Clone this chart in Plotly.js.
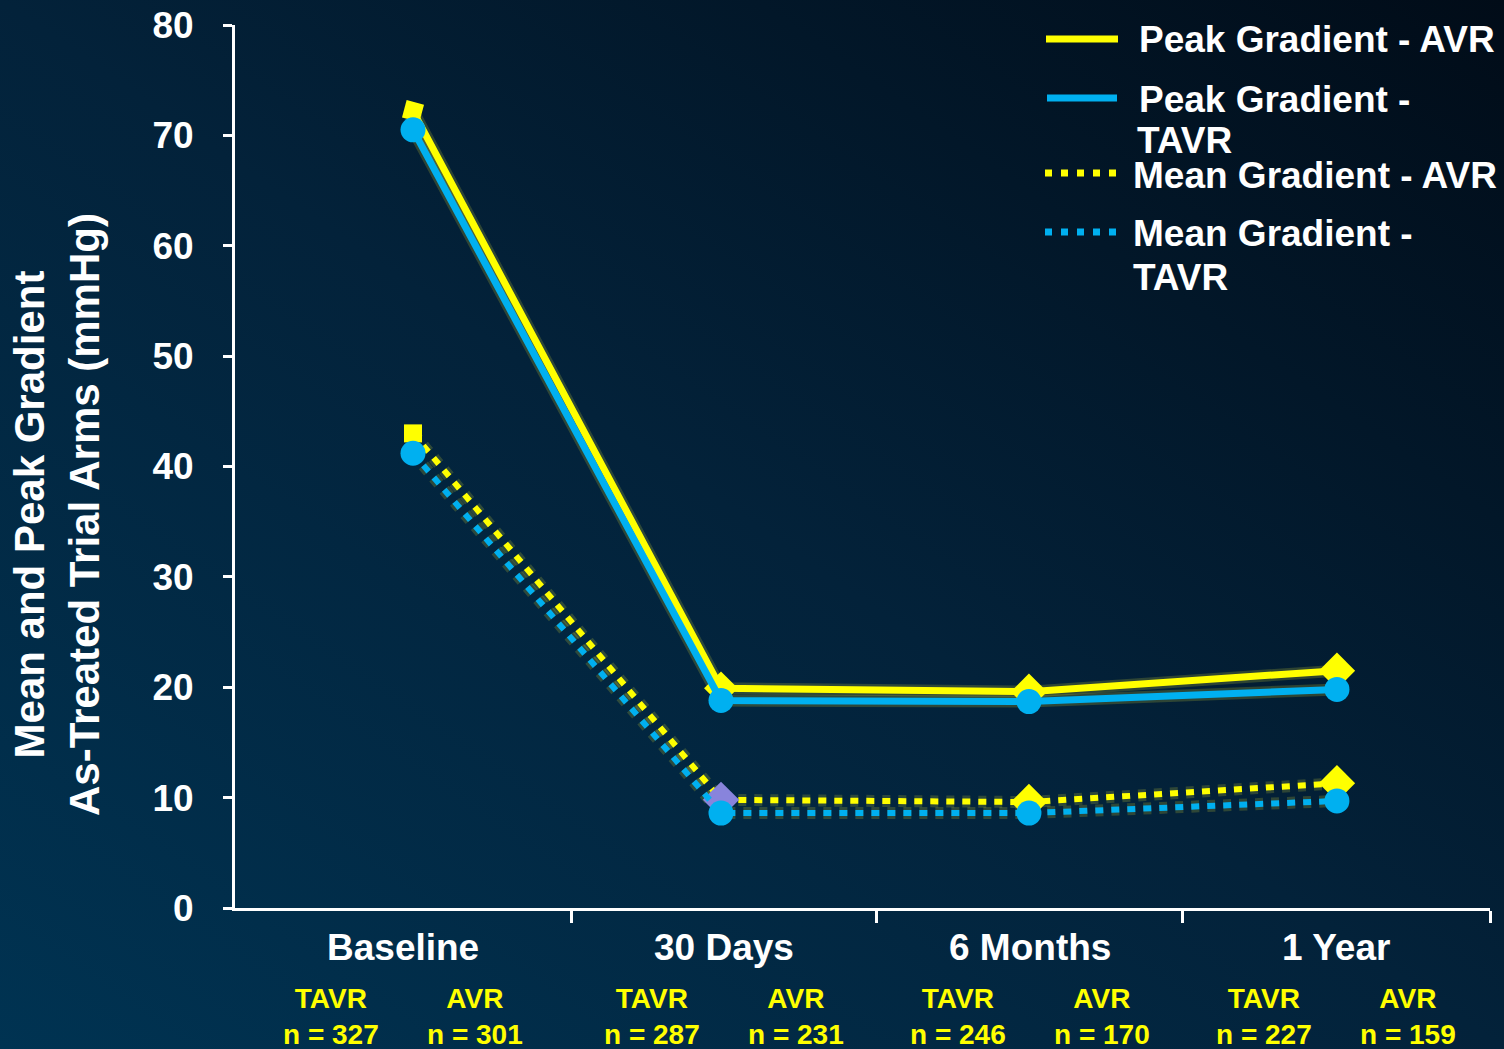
<!DOCTYPE html>
<html>
<head>
<meta charset="utf-8">
<script src="https://cdn.plot.ly/plotly-3.0.1.min.js"></script>
<style>
  html, body { margin: 0; padding: 0; width: 1504px; height: 1049px; overflow: hidden;
    background: linear-gradient(to bottom left, #010c18 0%, #03223a 50%, #003352 100%); }
  #chart { width: 1504px; height: 1049px; }
</style>
</head>
<body>
<div id="chart"></div>
<script>
// ---- data ----
const categories = ["Baseline", "30 Days", "6 Months", "1 Year"];
const tavrN = [327, 287, 246, 227];
const avrN = [301, 231, 170, 159];
const peakAVR = [72.2, 19.9, 19.6, 21.5];
const peakTAVR = [70.5, 18.8, 18.7, 19.8];
const meanAVR = [43.0, 9.8, 9.6, 11.3];
const meanTAVR = [41.2, 8.6, 8.6, 9.7];
const seriesNames = ["Peak Gradient - AVR", "Peak Gradient - TAVR", "Mean Gradient - AVR", "Mean Gradient - TAVR"];
const yTicks = [0, 10, 20, 30, 40, 50, 60, 70, 80];

// ---- styles ----
const YEL = "#ffff00", BLUE = "#00b0f0", PURPLE = "#8884dc", GLOW = "rgba(220,220,50,0.2)";
const FONT = "Liberation Sans, Arial, sans-serif";
const xIdx = categories.map((c, i) => i);

// layout helpers: pixel -> paper
const L = 235, R = 14, T = 25, B = 141, W = 1504, H = 1049;
const pw = W - L - R, ph = H - T - B;
const px = p => (p - L) / pw;
const py = p => (H - B - p) / ph;

const xRange = [-0.578, 3.497];
const xTickVals = [0.513, 1.506, 2.5, 3.497];
const bounds = [xRange[0]].concat(xTickVals);
const mids = categories.map((c, i) => (bounds[i] + bounds[i + 1]) / 2);

const avrSymbols = ["square", "diamond", "diamond", "diamond"];
const glow = (y, dash) => ({ x: xIdx, y: y, type: "scatter", mode: "lines", hoverinfo: "skip",
  line: { color: GLOW, width: 12, dash: dash || "solid" } });

const traces = [
  glow(peakAVR), glow(peakTAVR), glow(meanAVR, "8px,8px"), glow(meanTAVR, "8px,8px"),
  { x: xIdx, y: peakAVR, name: seriesNames[0], type: "scatter", mode: "lines+markers",
    line: { color: YEL, width: 7 },
    marker: { symbol: avrSymbols, size: [18, 26, 28, 28], angle: [15, 0, 0, 0], color: YEL, opacity: 1, line: { width: 0 } } },
  { x: xIdx, y: meanAVR, name: seriesNames[2], type: "scatter", mode: "lines+markers",
    line: { color: YEL, width: 6, dash: "8px,8px" },
    marker: { symbol: avrSymbols, size: [18, 28, 28, 28], color: [YEL, PURPLE, YEL, YEL], opacity: 1, line: { width: 0 } } },
  { x: xIdx, y: peakTAVR, name: seriesNames[1], type: "scatter", mode: "lines+markers",
    line: { color: BLUE, width: 7 },
    marker: { symbol: "circle", size: 25, color: BLUE, opacity: 1, line: { width: 0 } } },
  { x: xIdx, y: meanTAVR, name: seriesNames[3], type: "scatter", mode: "lines+markers",
    line: { color: BLUE, width: 6, dash: "8px,8px" },
    marker: { symbol: "circle", size: 25, color: BLUE, opacity: 1, line: { width: 0 } } }
];

const annotations = [];
// y axis title
annotations.push({ xref: "paper", yref: "paper", x: px(57), y: py(515), xanchor: "center", yanchor: "middle",
  text: "Mean and Peak Gradient<br>As-Treated Trial Arms (mmHg)", textangle: -90, showarrow: false,
  font: { family: FONT, size: 42, color: "#ffffff", weight: "bold" } });
// category labels
categories.forEach((c, i) => {
  annotations.push({ xref: "x", yref: "paper", x: mids[i], y: py(948), xanchor: "center", yanchor: "middle",
    text: c, showarrow: false, font: { family: FONT, size: 37, color: "#ffffff", weight: "bold" } });
  annotations.push({ xref: "x", yref: "paper", x: mids[i], xshift: -72, y: py(1016), xanchor: "center", yanchor: "middle",
    text: "TAVR<br>n = " + tavrN[i], showarrow: false, font: { family: FONT, size: 28, color: YEL, weight: "bold" } });
  annotations.push({ xref: "x", yref: "paper", x: mids[i], xshift: 72, y: py(1016), xanchor: "center", yanchor: "middle",
    text: "AVR<br>n = " + avrN[i], showarrow: false, font: { family: FONT, size: 28, color: YEL, weight: "bold" } });
});
// legend texts
const legendLines = [
  { t: "Peak Gradient - AVR", x: 1137, y: 40 },
  { t: "Peak Gradient -", x: 1137, y: 100 },
  { t: "TAVR", x: 1135, y: 140 },
  { t: "Mean Gradient - AVR", x: 1131, y: 176 },
  { t: "Mean Gradient -", x: 1131, y: 233 },
  { t: "TAVR", x: 1131, y: 277 }
];
legendLines.forEach(o => annotations.push({ xref: "paper", yref: "paper", x: px(o.x), y: py(o.y),
  xanchor: "left", yanchor: "middle", text: o.t, showarrow: false,
  font: { family: FONT, size: 37, color: "#ffffff", weight: "bold" } }));

const shapes = [
  { type: "line", xref: "paper", yref: "paper", x0: px(1046), x1: px(1118), y0: py(39), y1: py(39), line: { color: YEL, width: 7 } },
  { type: "line", xref: "paper", yref: "paper", x0: px(1047), x1: px(1117), y0: py(98), y1: py(98), line: { color: BLUE, width: 7 } },
  { type: "line", xref: "paper", yref: "paper", x0: px(1045), x1: px(1116), y0: py(173), y1: py(173), line: { color: YEL, width: 7, dash: "7px,9px" } },
  { type: "line", xref: "paper", yref: "paper", x0: px(1045), x1: px(1116), y0: py(232), y1: py(232), line: { color: BLUE, width: 7, dash: "7px,9px" } }
];

const layout = {
  width: W, height: H,
  margin: { l: L, r: R, t: T, b: B, pad: 0 },
  paper_bgcolor: "rgba(0,0,0,0)", plot_bgcolor: "rgba(0,0,0,0)",
  showlegend: false,
  xaxis: { range: xRange, showgrid: false, zeroline: false, showline: true, linecolor: "#ffffff", linewidth: 3,
    ticks: "outside", tickvals: xTickVals, ticklen: 12, tickwidth: 3, tickcolor: "#ffffff",
    showticklabels: false, fixedrange: true },
  yaxis: { range: [0, 80], tickvals: yTicks, ticktext: yTicks.map(String), showgrid: false, zeroline: false,
    showline: true, linecolor: "#ffffff", linewidth: 3, ticks: "outside", ticklen: 9, tickwidth: 3, tickcolor: "#ffffff",
    ticklabelstandoff: 22, tickfont: { family: FONT, size: 37, color: "#ffffff", weight: "bold" }, fixedrange: true },
  annotations: annotations,
  shapes: shapes
};

Plotly.newPlot("chart", traces, layout, { displayModeBar: false, staticPlot: true });
</script>
</body>
</html>
